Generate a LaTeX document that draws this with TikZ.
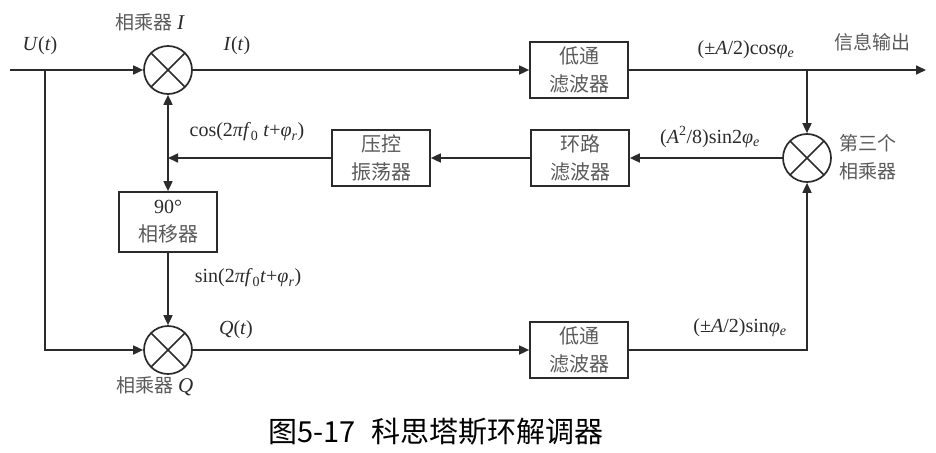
\documentclass[tikz,border=0pt]{standalone}
\usepackage{fontspec}
\setmainfont{Liberation Serif}
\newfontfamily\cjk{Noto Sans CJK SC}
\usetikzlibrary{arrows.meta,positioning,calc}
\definecolor{costline}{HTML}{2B2B2B}
\definecolor{costgray}{HTML}{5A5A5A}

\begin{document}
\begin{tikzpicture}[
    x=1pt, y=-1pt,
    line width=1.7pt, draw=costline,
    box/.style={draw, minimum width=98pt, minimum height=56pt, align=center, inner sep=2pt, font=\cjk\fontsize{20}{28}\selectfont, text=costgray},
    mixer/.style={circle, draw, minimum size=48pt, inner sep=0pt,
        path picture={\draw (path picture bounding box.north west) -- (path picture bounding box.south east)
                            (path picture bounding box.north east) -- (path picture bounding box.south west);}},
    arr/.style={-{Triangle[length=10pt, width=9pt]}},
    lbl/.style={font=\fontsize{20}{24}\selectfont, text=costline, inner sep=0pt},
    zh/.style={font=\cjk\fontsize{19}{28}\selectfont, text=costgray, align=left, inner sep=0pt}
]
\useasboundingbox (0,0) rectangle (936,452);

% Mixers
\node[mixer] (mixI) at (168,70) {};
\node[mixer] (mixQ) at (168,350) {};
\node[mixer] (mix3) at (807,158) {};

% Filters, VCO and phase shifter
\node[box] (lpfI) at (579,70) {低通\\滤波器};
\node[box] (loop) at (580,158) {环路\\滤波器};
\node[box] (vco) at (381,158) {压控\\振荡器};
\node[box, minimum height=60pt] (shift) at (168,222) {{\rmfamily\color{costline}90°}\\相移器};
\node[box] (lpfQ) at (579,350) {低通\\滤波器};

% Junctions
\coordinate (in) at (10,70);
\coordinate (split) at (45,70);
\coordinate (junc) at (168,158);
\coordinate (tap) at (807,70);
\coordinate (out) at (926,70);

% Labels
\node[lbl] (uLbl) at (40,46) {\textit{U}(\textit{t})};
\node[zh] (mixILbl) at (150,22) {相乘器 {\rmfamily\itshape\fontsize{21}{24}\selectfont\color{costline}I}};
\node[lbl] (iLbl) at (237,46) {\textit{I}(\textit{t})};
\node[lbl] (cosLbl) at (746,50) {(±\textit{A}/2)cos\textit{φ}\textsubscript{\textit{e}}};
\node[zh] (outLbl) at (872,42) {信息输出};
\node[lbl] (errLbl) at (710,137) {(\textit{A}\textsuperscript{2}/8)sin2\textit{φ}\textsubscript{\textit{e}}};
\node[zh] (mix3Lbl) at (868,157) {第三个\\相乘器};
\node[lbl] (vcoLbl) at (247,132) {cos(2\textit{πf}\textsubscript{0} \textit{t}+\textit{φ}\textsubscript{\textit{r}})};
\node[lbl] (sinLbl) at (248,278) {sin(2\textit{πf}\textsubscript{0}\textit{t}+\textit{φ}\textsubscript{\textit{r}})};
\node[lbl] (qLbl) at (236,330) {\textit{Q}(\textit{t})};
\node[zh] (mixQLbl) at (155,386) {相乘器 {\rmfamily\itshape\fontsize{21}{24}\selectfont\color{costline}Q}};
\node[lbl] (sinOutLbl) at (740,328) {(±\textit{A}/2)sin\textit{φ}\textsubscript{\textit{e}}};
\node[font=\cjk\fontsize{29}{32}\selectfont, text=black] (caption) at (436,432) {图5-17\hspace{16pt}科思塔斯环解调器};

% Arrows
\draw[arr] (in) -- (mixI);
\draw[arr] (split) |- (mixQ);
\draw[arr] (mixI) -- (lpfI);
\draw[arr] (lpfI) -- (out);
\draw[arr] (tap) -- (mix3);
\draw[arr] (mix3) -- (loop);
\draw[arr] (loop) -- (vco);
\draw[arr] (vco) -- (junc);
\draw[arr] (junc) -- (mixI);
\draw[arr] (junc) -- (shift);
\draw[arr] (shift) -- (mixQ);
\draw[arr] (mixQ) -- (lpfQ);
\draw[arr] (lpfQ) -| (mix3);
\end{tikzpicture}
\end{document}
